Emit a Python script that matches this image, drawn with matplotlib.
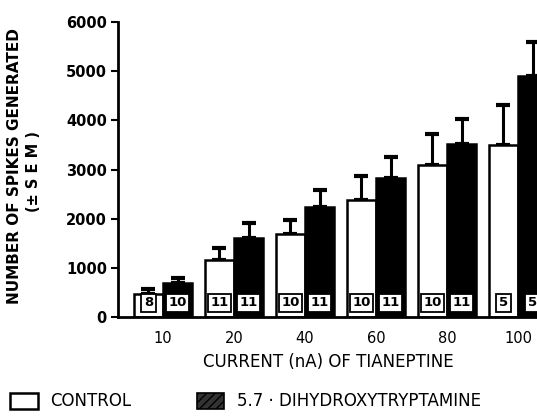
import numpy as np
import matplotlib
matplotlib.use("Agg")
import matplotlib.pyplot as plt
from matplotlib.patches import Rectangle

plt.rcParams['font.family'] = ['DejaVu Sans']

# current applied (nA) and mean spikes +/- SEM
currents = ['10', '20', '40', '60', '80', '100']
control_mean = [460, 1150, 1680, 2370, 3090, 3500]
control_sem = [100, 250, 300, 500, 640, 810]
lesion_mean = [700, 1610, 2230, 2820, 3520, 4900]
lesion_sem = [90, 300, 350, 430, 500, 690]
control_n = ['8', '11', '10', '10', '10', '5']
lesion_n = ['10', '11', '11', '11', '11', '5']

W, H = 537, 416
fig = plt.figure(figsize=(W / 100, H / 100), dpi=100)
# axes placed in pixels: left spine at x=118, baseline at y=317, 6000 at y=22
ax = fig.add_axes([118 / W, (H - 317) / H, (W - 118) / W, 295 / H])

x = np.arange(len(currents))
w = 0.41
ax.bar(x - w, control_mean, w, align='edge', color='white', edgecolor='black', linewidth=1.8, zorder=2)
ax.bar(x, lesion_mean, w, align='edge', color='black', edgecolor='black', linewidth=1.8, zorder=2)

ax.errorbar(x - w / 2, control_mean, yerr=[np.zeros(6), control_sem], fmt='none',
            ecolor='black', elinewidth=2.2, capsize=5, capthick=3, zorder=1)
ax.errorbar(x + w / 2, lesion_mean, yerr=[np.zeros(6), lesion_sem], fmt='none',
            ecolor='black', elinewidth=2.2, capsize=5, capthick=3, zorder=1)

# number of cells at the foot of each bar
box = dict(boxstyle='square,pad=0.2', fc='white', ec='black', lw=1.3)
for i in range(len(currents)):
    ax.text(x[i] - w / 2, 290, control_n[i], ha='center', va='center', fontsize=9.5,
            fontweight='bold', bbox=box, zorder=3)
    ax.text(x[i] + w / 2, 290, lesion_n[i], ha='center', va='center', fontsize=9.5,
            fontweight='bold', bbox=box, zorder=3)

ax.set_xlim(-45 / 71, (537 - 163) / 71)
ax.set_ylim(0, 6000)
ax.set_yticks([0, 1000, 2000, 3000, 4000, 5000, 6000])
ax.set_yticklabels(['0', '1000', '2000', '3000', '4000', '5000', '6000'], fontsize=10.5, fontweight='bold')
ax.set_xticks(x)
ax.set_xticklabels(currents, fontsize=10.5)
ax.tick_params(axis='x', length=0, pad=10)
ax.tick_params(axis='y', length=5, width=1.5, pad=3)
for s in ['top', 'right']:
    ax.spines[s].set_visible(False)
ax.spines['left'].set_linewidth(2)
ax.spines['bottom'].set_linewidth(2)

fig.text(328 / W, 1 - 362 / H, 'CURRENT (nA) OF TIANEPTINE', ha='center', va='center', fontsize=12)
fig.text(15 / W, 1 - 166 / H, 'NUMBER OF SPIKES GENERATED', rotation=90, ha='center', va='center',
         fontsize=11, fontweight='bold')
fig.text(33 / W, 1 - 172 / H, '(\u00b1 S E M )', rotation=90, ha='center', va='center',
         fontsize=10.5, fontweight='bold')

# legend boxes
fig.patches.append(Rectangle((10 / W, 1 - 409 / H), 28 / W, 16 / H, transform=fig.transFigure,
                             fc='white', ec='black', lw=1.8))
fig.text(50 / W, 1 - 401 / H, 'CONTROL', ha='left', va='center', fontsize=12)
fig.patches.append(Rectangle((197 / W, 1 - 409 / H), 27 / W, 16 / H, transform=fig.transFigure,
                             fc='#333333', ec='black', lw=1.2, hatch='////'))
fig.text(237 / W, 1 - 401 / H, '5.7 \u00b7 DIHYDROXYTRYPTAMINE', ha='left', va='center', fontsize=12)

fig.savefig('out.png', dpi=100)
